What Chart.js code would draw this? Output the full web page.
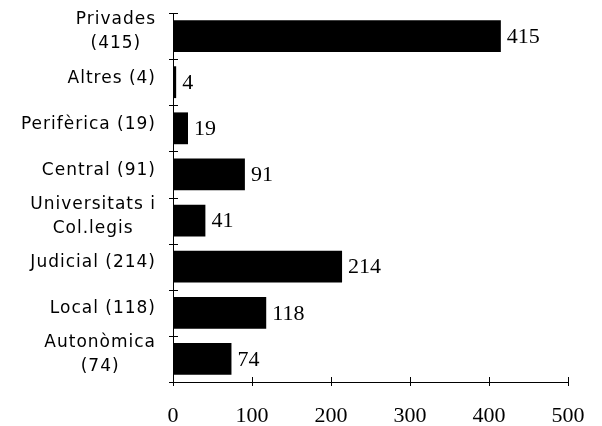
<!DOCTYPE html>
<html>
<head>
<meta charset="utf-8">
<script src="https://cdn.jsdelivr.net/npm/chart.js@4/dist/chart.umd.min.js"></script>
<style>
  html, body { margin: 0; padding: 0; background: #fff; }
  #wrap { width: 602px; height: 426px; }
</style>
</head>
<body>
<div id="wrap"><canvas id="chart"></canvas></div>
<script>
// categories top to bottom, each as lines of text
const categories = [
    ['Privades', '(415)'],
    ['Altres (4)'],
    ['Perifèrica (19)'],
    ['Central (91)'],
    ['Universitats i', 'Col.legis'],
    ['Judicial (214)'],
    ['Local (118)'],
    ['Autonòmica', '(74)']
];
const values = [415, 4, 19, 91, 41, 214, 118, 74];
const xTicks = [0, 100, 200, 300, 400, 500];

const labelFont = '17px "DejaVu Sans"';
const numberFont = '22px "Liberation Serif"';

// axis ticks that cross the axis lines, plus the category labels and bar values
const decorations = {
    id: 'decorations',
    afterDraw(chart) {
        const ctx = chart.ctx;
        const x = chart.scales.x;
        const y = chart.scales.y;
        const area = chart.chartArea;
        ctx.save();
        ctx.strokeStyle = '#000';
        ctx.lineWidth = 1;
        ctx.beginPath();
        // y ticks on the boundaries between categories
        const step = (area.bottom - area.top) / categories.length;
        for (let i = 0; i <= categories.length; i++) {
            const py = Math.round(area.top + i * step) + 0.5;
            ctx.moveTo(area.left - 4, py);
            ctx.lineTo(area.left + 5, py);
        }
        xTicks.forEach(v => {
            const px = Math.round(x.getPixelForValue(v)) + 0.5;
            ctx.moveTo(px, area.bottom - 5);
            ctx.lineTo(px, area.bottom + 4);
        });
        ctx.stroke();

        // category labels: block right aligned, lines centred inside the block
        ctx.font = labelFont;
        ctx.letterSpacing = '1px';
        ctx.fillStyle = '#000';
        ctx.textAlign = 'center';
        ctx.textBaseline = 'middle';
        const lineH = 24;
        const right = 156;
        categories.forEach((lines, i) => {
            const cy = y.getPixelForValue(i) - 4;
            const widest = Math.max(...lines.map(l => ctx.measureText(l).width));
            const cx = right - widest / 2;
            lines.forEach((l, j) => {
                ctx.fillText(l, cx, cy + (j - (lines.length - 1) / 2) * lineH);
            });
        });
        ctx.letterSpacing = '0px';

        // values next to each bar
        ctx.font = numberFont;
        ctx.textAlign = 'left';
        const meta = chart.getDatasetMeta(0);
        meta.data.forEach((bar, i) => {
            ctx.fillText(String(values[i]), bar.x + 6, bar.y + 1);
        });
        ctx.restore();
    }
};

new Chart(document.getElementById('chart'), {
    type: 'bar',
    data: {
        labels: categories,
        datasets: [{
            data: values,
            backgroundColor: '#000',
            borderWidth: 0,
            categoryPercentage: 1,
            barPercentage: 0.69
        }]
    },
    options: {
        indexAxis: 'y',
        responsive: true,
        maintainAspectRatio: false,
        animation: false,
        layout: { padding: { top: 13, right: 34, left: 0, bottom: 0 } },
        plugins: {
            legend: { display: false },
            tooltip: { enabled: false }
        },
        scales: {
            x: {
                min: 0,
                max: 500,
                afterBuildTicks: axis => { axis.ticks = xTicks.map(v => ({ value: v })); },
                grid: { display: false },
                border: { display: true, color: '#000', width: 1 },
                ticks: {
                    color: '#000',
                    font: { family: 'Liberation Serif', size: 22 },
                    padding: 13
                },
                afterFit: axis => { axis.height = 44; }
            },
            y: {
                grid: { display: false },
                border: { display: true, color: '#000', width: 1 },
                ticks: { display: false },
                afterFit: axis => { axis.width = 173; }
            }
        }
    },
    plugins: [decorations]
});
</script>
</body>
</html>
